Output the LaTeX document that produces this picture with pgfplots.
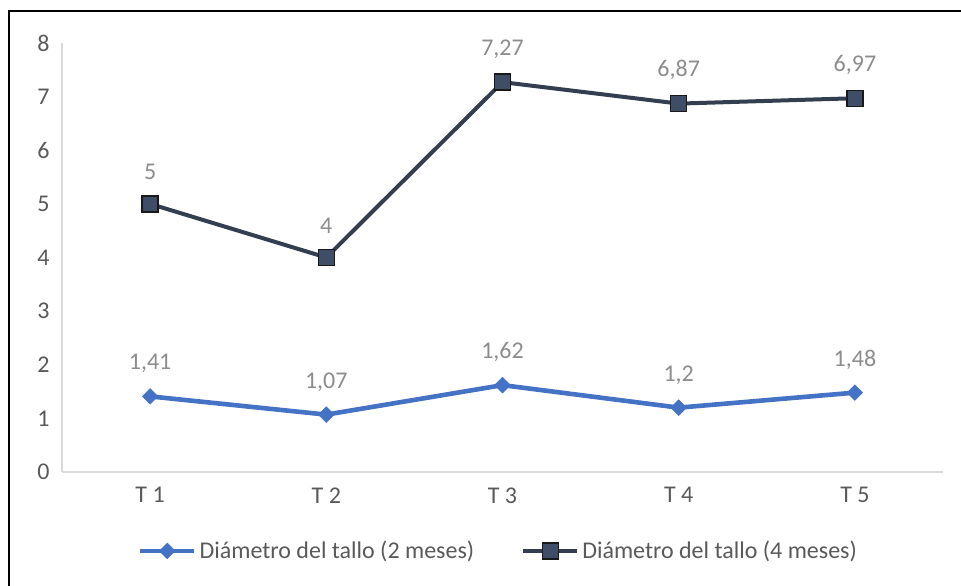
\documentclass[border=0pt]{standalone}
\usepackage{pgfplots}
\pgfplotsset{compat=1.18}
\usetikzlibrary{calc}
\usepackage{fontspec}
\setmainfont{Carlito}

\definecolor{serieA}{HTML}{4472C4}
\definecolor{serieB}{HTML}{333F50}
\definecolor{serieBfill}{HTML}{3F4D66}
\definecolor{ticktext}{HTML}{595959}
\definecolor{labeltext}{HTML}{8C8C8C}
\definecolor{axisgray}{HTML}{D9D9D9}

\begin{document}
\begin{tikzpicture}[x=1pt,y=1pt]
  \begin{axis}[
    scale only axis, width=881pt, height=429pt,
    xmin=-0.5, xmax=4.5, ymin=0, ymax=8,
    axis x line=bottom, axis y line=left,
    axis line style={axisgray, line width=1.8pt, -},
    xtick={0,1,2,3,4},
    xticklabels={T 1, T 2, T 3, T 4, T 5},
    ytick={0,1,...,8},
    major tick length=0pt,
    tick label style={font=\fontsize{24}{26}\selectfont, text=ticktext},
    /pgf/number format/assume math mode=true,
    yticklabel style={xshift=-9pt},
    xticklabel style={yshift=-12pt},
    clip=false,
    nodes near coords={\pgfplotspointmeta},
    point meta=explicit symbolic,
    every node near coord/.append style={font=\fontsize{24}{26}\selectfont, text=labeltext, yshift=20pt},
    legend columns=2,
    legend style={draw=none, fill=none, at={(0.496,-0.184)}, anchor=center,
      font=\fontsize{24}{26}\selectfont, text=ticktext,
      /tikz/every even column/.append style={column sep=44pt},
      nodes={inner xsep=3pt}},
    legend cell align=left,
    legend image code/.code={
      \draw[#1, mark repeat=2, mark phase=2] plot coordinates {(0pt,0pt) (27pt,0pt) (54pt,0pt)};
    },
  ]
    \addplot[serieA, line width=4.6pt, mark=square*,
      mark options={mark size=5.6pt, rotate=45, line width=0.4pt, fill=serieA, draw=serieA}]
      table[meta=lab] {
        x y lab
        0 1.41 1,41
        1 1.07 1,07
        2 1.62 1,62
        3 1.2  1,2
        4 1.48 1,48
      };
    \addlegendentry{Diámetro del tallo (2 meses)}

    \addplot[serieB, line width=4pt, mark=square*,
      mark options={mark size=8pt, line width=1.4pt, fill=serieBfill, draw=black!90}]
      table[meta=lab] {
        x y lab
        0 5    5
        1 4    4
        2 7.27 7,27
        3 6.87 6,87
        4 6.97 6,97
      };
    \addlegendentry{Diámetro del tallo (4 meses)}

    \coordinate (O) at (rel axis cs:0,0);
  \end{axis}
  % canvas and outer frame (top and left edges), placed around the plot area
  \path[use as bounding box] ($(O)+(-62,-114)$) rectangle ++(961,586);
  \draw[line width=2.2pt,black] ($(O)+(-53,-114)$) -- ($(O)+(-53,461)$) -- ($(O)+(899,461)$);
\end{tikzpicture}
\end{document}
